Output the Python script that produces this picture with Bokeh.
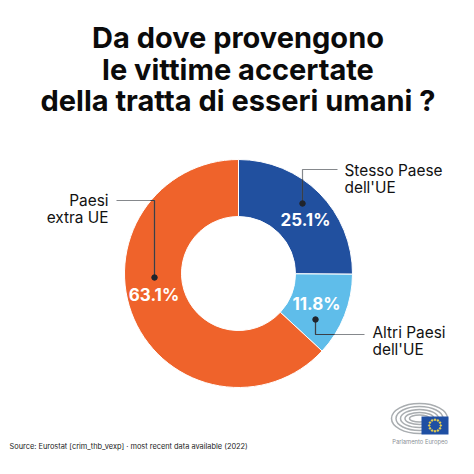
from math import pi, sin, cos
from bokeh.core.properties import value
from bokeh.plotting import figure
from bokeh.embed import file_html
from bokeh.resources import INLINE

categories = ["Stesso Paese dell'UE", "Altri Paesi dell'UE", "Paesi extra UE"]
values = [25.1, 11.8, 63.1]
colors = ["#21509f", "#5fbdea", "#ef632b"]
title_lines = ["Da dove provengono", "le vittime accertate", "della tratta di esseri umani ?"]
source_text = "Source: Eurostat [crim_thb_vexp] · most recent data available (2022)"
logo_text = "Parlamento Europeo"

W = 474
p = figure(width=W, height=W, x_range=(0, 474), y_range=(0, 474), output_backend="svg",
           toolbar_location=None, min_border=0, outline_line_color=None)
p.axis.visible = False
p.grid.visible = False
p.background_fill_color = "white"

def Y(py):
    return 474 - py

CX, CY, R0, R1 = 238, Y(273), 57, 114
FONT = value("Inter")

# Donut, clockwise from the top
start = pi / 2
acc = 0.0
tot = sum(values)
for v, c in zip(values, colors):
    a0 = start - 2 * pi * acc / tot
    acc += v
    a1 = start - 2 * pi * acc / tot
    p.annular_wedge(x=[CX], y=[CY], inner_radius=R0, outer_radius=R1, start_angle=a1, end_angle=a0,
                    fill_color=c, line_color="white", line_width=1.0)

# Title
for i, t in enumerate(title_lines):
    p.text(x=[237.5], y=[Y(37 + 31.5 * i)], text=[t], text_font=FONT, text_font_size="29px",
           text_font_style="bold", text_color="#0b0b0b", text_align="center", text_baseline="middle")

# Leaders: grey outside the ring, dark inside it
GREY, DARK = "#85888c", "#3a3f48"
p.line([302, 302, 337], [Y(203), Y(169), Y(169)], line_color=GREY, line_width=1.2)
p.line([315, 315, 364], [Y(319), Y(334), Y(334)], line_color=GREY, line_width=1.2)
p.line([154, 154, 116], [Y(277), Y(200), Y(200)], line_color=GREY, line_width=1.2)
p.line([302, 302], [Y(203), Y(179)], line_color=DARK, line_width=1.2)
p.line([315, 315, 334], [Y(319), Y(334), Y(334)], line_color=DARK, line_width=1.2)
p.line([154, 154, 150], [Y(277), Y(200), Y(200)], line_color=DARK, line_width=1.2)
p.scatter(x=[302, 315, 154], y=[Y(203), Y(319), Y(277)], size=5.5, color="#20242c")

# Category labels
def labels(x, py, lines, align):
    for i, t in enumerate(lines):
        p.text(x=[x], y=[Y(py + 17 * i)], text=[t], text_font=FONT, text_font_size="15.4px",
               text_color="#111111", text_align=align, text_baseline="middle")

labels(344, 170, ["Stesso Paese", "dell'UE"], "left")
labels(372, 332, ["Altri Paesi", "dell'UE"], "left")
labels(108, 200, ["Paesi", "extra UE"], "right")

# Percentages
for x, py, v in zip([305, 316, 153.5], [219, 303, 294], values):
    p.text(x=[x], y=[Y(py)], text=[f"{v}%"], text_font=FONT, text_font_size="17px", text_font_style="bold",
           text_color="white", text_align="center", text_baseline="middle")

# Source
p.text(x=[9], y=[Y(446)], text=[source_text], text_font=FONT, text_font_size="7.4px", text_color="#222222",
       text_align="left", text_baseline="middle")

# Logo
for w, h in [(56, 30), (47, 24), (38, 18), (29, 12), (20, 7)]:
    p.ellipse(x=[419], y=[Y(418)], width=w, height=h, fill_color=None, line_color="#a9adb0", line_width=1.5)
p.quad(left=[421], right=[448], top=[Y(416)], bottom=[Y(434)], fill_color="#1f4fa3", line_color=None)
sx = [434.5 + 5.8 * cos(2 * pi * k / 12) for k in range(12)]
sy = [Y(425) + 5.8 * sin(2 * pi * k / 12) for k in range(12)]
p.scatter(x=sx, y=sy, size=1.6, color="#f2d64b")
p.text(x=[419.5], y=[Y(440.7)], text=[logo_text], text_font=FONT, text_font_size="5.8px",
       text_color="#8b9096", text_align="center", text_baseline="middle")

open("out.html", "w").write(file_html(p, INLINE))
